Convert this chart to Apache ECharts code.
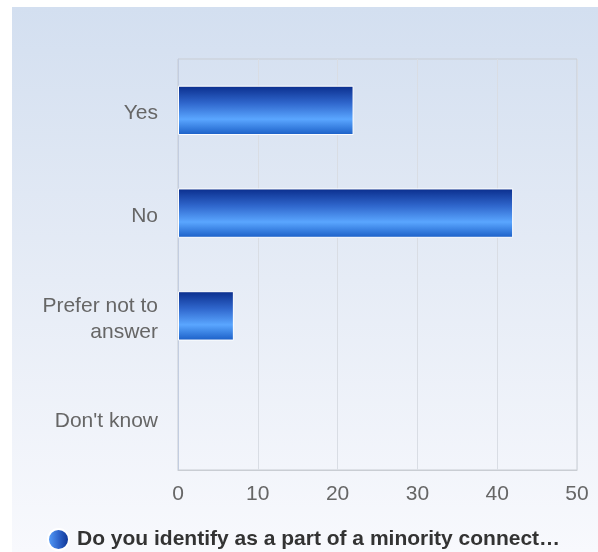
<!DOCTYPE html>
<html>
<head>
<meta charset="utf-8">
<script src="https://cdn.jsdelivr.net/npm/echarts@6/dist/echarts.min.js"></script>
<style>
html,body{margin:0;padding:0;background:#ffffff;width:598px;height:552px;overflow:hidden;}
#c{position:absolute;left:12px;top:7px;width:586px;height:545px;background:linear-gradient(to bottom,#d3dff0 0%,#e6ecf6 50%,#f8f9fd 100%);}
</style>
</head>
<body>
<div id="c"></div>
<script>
const categories = ["Yes", "No", "Prefer not to\nanswer", "Don't know"];
const values = [22, 42, 7, 0];
const xTicks = [0, 10, 20, 30, 40, 50];
const seriesName = "Do you identify as a part of a minority connect\u2026";

const chart = echarts.init(document.getElementById('c'), null, {renderer: 'canvas'});
const barGrad = new echarts.graphic.LinearGradient(0, 0, 0, 1, [
  {offset: 0, color: '#0a2d8c'},
  {offset: 0.35, color: '#2f66cc'},
  {offset: 0.68, color: '#5aa6ff'},
  {offset: 1, color: '#1a5ec6'}
]);
const iconGrad = new echarts.graphic.LinearGradient(0, 0, 1, 0, [
  {offset: 0, color: '#5aa4ff'},
  {offset: 0.5, color: '#2f66cc'},
  {offset: 1, color: '#0a2d8c'}
]);
chart.setOption({
  animation: false,
  backgroundColor: 'transparent',
  textStyle: {fontFamily: 'Liberation Sans, Arial, sans-serif'},
  grid: {left: 166, top: 52, right: 21, bottom: 82, show: true, borderColor: '#c9cdd3', borderWidth: 1, backgroundColor: 'transparent'},
  xAxis: {
    type: 'value', min: xTicks[0], max: xTicks[xTicks.length - 1], interval: 10,
    axisLine: {show: true, lineStyle: {color: '#c9cdd3'}},
    axisTick: {show: false},
    splitLine: {show: true, lineStyle: {color: '#d9dde4', width: 1}},
    axisLabel: {color: '#666666', fontSize: 21, margin: 14}
  },
  yAxis: {
    type: 'category', data: categories, inverse: true,
    axisLine: {show: true, lineStyle: {color: '#c3cde0'}},
    axisTick: {show: false},
    splitLine: {show: false},
    axisLabel: {
      color: '#666666', fontSize: 21, margin: 20, align: 'right',
      formatter: v => '{p|}\n' + v.split('\n').map(s => '{a|' + s + '}').join('\n'),
      rich: {
        a: {fontSize: 21, color: '#666666', lineHeight: 26},
        p: {fontSize: 1, lineHeight: 6}
      }
    }
  },
  legend: {
    left: 35, top: 521, padding: 0,
    icon: 'circle', itemWidth: 21, itemHeight: 21, itemGap: 8,
    textStyle: {fontSize: 21, fontWeight: 'bold', color: '#333333', padding: [0, 0, 0, 3]},
    data: [{name: seriesName, itemStyle: {color: iconGrad}}]
  },
  series: [{
    name: seriesName,
    type: 'bar',
    data: values.map(v => v === 0 ? {value: v, itemStyle: {borderWidth: 0}} : v),
    barWidth: '48%',
    itemStyle: {color: barGrad, borderColor: '#ffffff', borderWidth: 1}
  }]
});
</script>
</body>
</html>
